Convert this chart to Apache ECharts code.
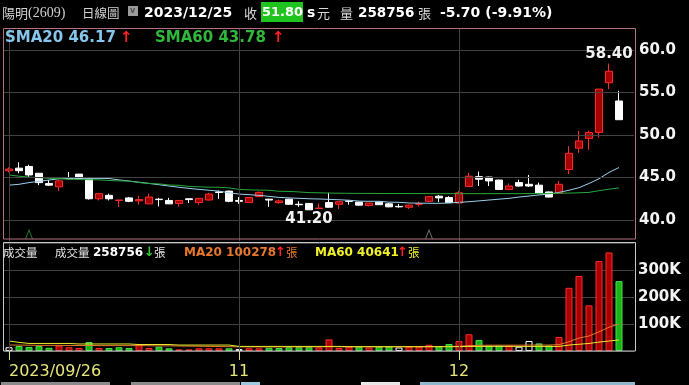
<!DOCTYPE html>
<html><head><meta charset="utf-8">
<script src="https://cdn.jsdelivr.net/npm/echarts@6/dist/echarts.min.js"></script>
<style>html,body{margin:0;padding:0;background:#000;}#c{width:689px;height:385px;}</style>
</head><body><div id="c"></div><script>
// ---------- data ----------
const dates = ['2023/09/26','2023/09/27','2023/09/28',
'2023/10/02','2023/10/03','2023/10/04','2023/10/05','2023/10/06','2023/10/11','2023/10/12','2023/10/13','2023/10/16','2023/10/17','2023/10/18','2023/10/19','2023/10/20','2023/10/23','2023/10/24','2023/10/25','2023/10/26','2023/10/27','2023/10/30','2023/10/31',
'2023/11/01','2023/11/02','2023/11/03','2023/11/06','2023/11/07','2023/11/08','2023/11/09','2023/11/10','2023/11/13','2023/11/14','2023/11/15','2023/11/16','2023/11/17','2023/11/20','2023/11/21','2023/11/22','2023/11/23','2023/11/24','2023/11/27','2023/11/28','2023/11/29','2023/11/30',
'2023/12/01','2023/12/04','2023/12/05','2023/12/06','2023/12/07','2023/12/08','2023/12/11','2023/12/12','2023/12/13','2023/12/14','2023/12/15','2023/12/18','2023/12/19','2023/12/20','2023/12/21','2023/12/22','2023/12/25'];
const opens = [45.8,46.1,46.3,45.5,44.3,43.9,45.0,45.4,44.8,42.5,
42.9,42.3,42.6,42.25,41.9,42.45,42.3,41.95,42.5,42.05,
42.35,43.3,43.4,42.3,42.05,42.75,42.45,42.05,42.45,41.85,
41.95,41.35,42.05,41.85,42.25,42.1,41.7,42.1,41.9,41.6,
41.5,41.85,42.2,42.8,42.65,42.0,43.95,45.1,45.05,44.7,
43.6,44.4,44.2,44.1,43.3,43.15,45.95,48.45,49.6,50.3,
56.15,54.0];
const closes = [46.0,45.8,45.3,44.4,44.1,44.6,44.85,44.9,42.5,43.1,
42.5,42.35,42.2,42.4,42.7,42.4,41.9,42.3,42.4,42.55,
43.05,43.25,42.2,42.2,42.65,43.25,42.35,42.25,41.85,41.8,
41.2,41.4,41.5,42.15,42.2,41.75,42.0,41.8,41.55,41.55,
41.75,41.9,42.75,42.6,42.05,43.2,45.15,44.8,44.6,43.6,
44.0,44.0,44.0,43.15,42.7,44.2,47.85,49.3,50.3,55.4,
57.5,51.8];
const lows = [45.6,45.5,45.0,44.1,44.0,43.4,44.8,44.8,42.4,42.3,
42.3,41.55,42.1,41.8,41.9,41.6,41.9,41.6,42.0,41.8,
42.3,42.5,42.1,41.9,42.0,42.75,41.55,41.9,41.8,41.55,
41.2,41.3,41.5,41.3,41.8,41.7,41.6,41.8,41.5,41.45,
41.3,41.6,42.15,42.1,42.0,41.95,43.9,44.0,44.0,43.6,
43.5,43.9,43.9,43.1,42.65,43.1,45.4,47.9,48.25,49.7,
55.4,51.8];
const highs = [46.2,46.8,46.5,45.5,44.7,44.7,45.65,45.4,44.9,43.1,
43.1,42.35,42.7,42.85,43.1,42.6,42.6,42.3,42.5,42.6,
43.2,43.45,43.45,42.7,42.7,43.35,42.5,42.4,42.5,42.2,
42.0,41.95,43.2,42.2,42.35,42.15,42.0,42.15,42.0,41.9,
41.8,42.15,42.75,42.95,42.8,43.4,45.55,45.7,45.1,44.75,
44.3,44.75,45.3,44.4,43.35,44.6,48.7,50.5,50.5,55.4,
58.4,55.2];
const prevClose0 = 46.0;
const volumes = [14000,18500,15000,18000,12000,20000,14000,11000,33000,11000,
11000,14000,11000,25000,11000,16000,10000,6000,6000,10000,
10000,10000,10000,7000,10000,10000,12000,11000,14000,14000,
14000,13000,43000,11000,16000,16000,13000,16000,16000,13000,
16000,16000,23000,18000,26000,37000,62000,41000,20000,20000,
20000,16000,37000,28000,20000,52000,234000,278000,169000,333000,
365000,258756];
const sma20 = [44.1,44.2,44.4,44.55,44.7,44.85,44.9,44.9,44.9,44.9,
44.88,44.72,44.58,44.45,44.3,44.15,44.0,43.85,43.72,43.6,
43.5,43.4,43.2,43.05,42.98,42.9,42.78,42.66,42.6,42.55,
42.5,42.47,42.43,42.38,42.33,42.22,42.2,42.2,42.1,42.08,
42.0,41.98,41.97,41.96,42.0,42.08,42.15,42.25,42.35,42.45,
42.55,42.7,42.82,42.95,43.05,43.25,43.5,43.8,44.3,44.85,
45.6,46.17];
const sma60 = [45.3,45.15,45.05,44.98,44.9,44.86,44.8,44.76,44.74,44.72,
44.65,44.6,44.58,44.4,44.3,44.25,44.12,44.08,43.95,43.9,
43.86,43.85,43.78,43.6,43.55,43.52,43.5,43.38,43.36,43.3,
43.22,43.2,43.17,43.15,43.14,43.13,43.13,43.12,43.12,43.12,
43.11,43.11,43.1,43.1,43.1,43.1,43.1,43.1,43.1,43.1,
43.1,43.1,43.1,43.12,43.13,43.15,43.17,43.2,43.25,43.45,
43.62,43.78];
const volMa20 = [22000,22000,21500,21000,21000,21000,20500,20500,20500,20000,
20000,20000,20000,20000,19500,19000,19000,18500,18000,17500,
17000,16500,16000,15500,15000,15000,15000,15000,15000,15000,
15000,15000,16000,15500,15500,15500,15500,15500,15500,15500,
15500,15500,16000,16000,16500,17500,20000,21000,21500,21500,
21500,21500,22000,22000,22000,23500,34500,48000,55500,71000,
88000,100278];
const volMa60 = [37000,32000,28000,28000,28000,28000,28000,26000,26000,26000,
26000,26000,26000,24000,24000,24000,24000,22000,22000,22000,
22000,22000,22000,17000,17000,17000,17000,17000,17000,17000,
17000,17000,17000,17000,16000,16000,16000,16000,16000,16000,
16000,16000,16000,16000,16000,16000,17000,17000,17000,17000,
17000,17000,17000,17000,17000,17000,22000,25000,28000,33000,
37000,40641];
const tickDates = ['2023/09/26', '2023/11/01', '2023/12/01'];
const tickLabels = ['2023/09/26', '11', '12'];
const priceTicks = [40, 45, 50, 55, 60];
const volTicks = [100000, 200000, 300000];
const signalIdx = [2, 42];
const signalColors = ['#2f9a3c', '#8c8c8c'];
const stockName = '陽明', stockCode = '(2609)';

// ---------- build ----------
const n = dates.length;
const cats = dates.concat(['']);
const candle = dates.map((d, i) => [opens[i], closes[i], lows[i], highs[i]]);
function chg(i) { const p = i === 0 ? prevClose0 : closes[i - 1]; return closes[i] > p ? 1 : (closes[i] < p ? -1 : 0); }
const volData = volumes.map((v, i) => {
  const s = chg(i);
  const st = s > 0 ? {color: '#a80000', borderColor: '#ff2a2a'} : (s < 0 ? {color: '#18b418', borderColor: '#4be04b'} : {color: '#000', borderColor: '#ffffff'});
  st.borderWidth = 1;
  return {value: v, itemStyle: st};
});
const isTick = (i) => tickDates.indexOf(cats[i]) >= 0;
const last = n - 1;
const chgVal = closes[last] - closes[last - 1];
const chgPct = chgVal / closes[last - 1] * 100;
const GRID = '#424242';

const vLines = tickDates.map(c => ({xAxis: c}));
const hLines = priceTicks.map(v => ({yAxis: v}));

const F = 'DejaVu Sans';
const CJK = '"Noto Sans CJK TC"';
function txt(x, y, text, fill, font, z) {
  return {type: 'text', x: x, y: y, z: z || 100, silent: true,
    style: {text: text, fill: fill, font: font, verticalAlign: 'middle', textVerticalAlign: 'middle'}};
}
const B = (s) => 'bold ' + s + 'px "DejaVu Sans"';
const C = (s) => s + 'px ' + CJK;

const graphics = [
  {type: 'rect', shape: {x: 3.5, y: 28.5, width: 632, height: 210.5}, style: {fill: 'none', stroke: '#b5707e', lineWidth: 1}, z: 50, silent: true},
  {type: 'rect', shape: {x: 3.5, y: 242.5, width: 632, height: 108.5}, style: {fill: 'none', stroke: '#c8c8c8', lineWidth: 1}, z: 50, silent: true},
  txt(2, 13, stockName, '#cfcfcf', C(13)),
  txt(28, 13, stockCode, '#cfcfcf', '14px "Liberation Serif"'),
  txt(82, 13, '日線圖', '#d4d4d4', C(12.5)),
  {type: 'rect', shape: {x: 128, y: 6, width: 10, height: 10}, style: {fill: '#9a9a9a'}, z: 100, silent: true},
  txt(130, 11, 'v', '#505050', 'bold 8px "DejaVu Sans"'),
  txt(144, 13, dates[last], '#ffffff', B(14)),
  txt(244, 13, '收', '#d8d8d8', C(13)),
  {type: 'rect', shape: {x: 261, y: 2, width: 42, height: 20}, style: {fill: '#1ec31e'}, z: 99, silent: true},
  txt(262, 13, closes[last].toFixed(2), '#ffffff', B(13)),
  txt(307, 13, 's', '#ffffff', B(14)),
  txt(317, 13, '元', '#d8d8d8', C(13)),
  txt(340, 13, '量', '#d8d8d8', C(13)),
  txt(358, 13, String(volumes[last]), '#ffffff', B(13.5)),
  txt(418, 13, '張', '#d8d8d8', C(13)),
  txt(440, 13, chgVal.toFixed(2) + ' (' + chgPct.toFixed(2) + '%)', '#ffffff', B(14)),
  txt(5, 38, 'SMA20 ' + sma20[last].toFixed(2), '#86c6ec', B(15)),
  txt(120, 38, '↑', '#ff2020', B(15)),
  txt(155, 38, 'SMA60 ' + sma60[last].toFixed(2), '#2fb83c', B(15)),
  txt(272, 38, '↑', '#ff2020', B(15)),
  txt(3, 253, '成交量', '#e4e4e4', C(11.5)),
  txt(55, 253, '成交量', '#e4e4e4', C(11.5)),
  txt(93, 253, String(volumes[last]), '#ffffff', B(12)),
  txt(144, 253, '↓', '#2fd02f', B(13)),
  txt(154, 253, '張', '#e4e4e4', C(11.5)),
  txt(184, 253, 'MA20 ' + volMa20[last], '#e8782c', B(12)),
  txt(275, 253, '↑', '#ff2020', B(13)),
  txt(286, 253, '張', '#e8782c', C(11.5)),
  txt(315, 253, 'MA60 ' + volMa60[last], '#f0f02a', B(12)),
  txt(397, 253, '↑', '#ff2020', B(13)),
  txt(408, 253, '張', '#f0f02a', C(11.5)),
  {type: 'rect', shape: {x: 1, y: 382, width: 109, height: 3}, style: {fill: '#8a8a8a'}, silent: true},
  {type: 'rect', shape: {x: 131, y: 382, width: 109, height: 3}, style: {fill: '#8a8a8a'}, silent: true},
  {type: 'rect', shape: {x: 241, y: 382, width: 19, height: 3}, style: {fill: '#9cc8e0'}, silent: true},
  {type: 'rect', shape: {x: 361, y: 382, width: 39, height: 3}, style: {fill: '#e8e8e8'}, silent: true},
  {type: 'rect', shape: {x: 420, y: 382, width: 215, height: 3}, style: {fill: '#8fb8cc'}, silent: true}
];

const option = {
  backgroundColor: '#000',
  animation: false,
  grid: [
    {left: 4, width: 630, top: 28.75, height: 212.5},
    {left: 4, width: 630, top: 243, height: 108}
  ],
  xAxis: [
    {type: 'category', gridIndex: 0, data: cats, boundaryGap: true,
      axisLine: {show: false}, axisTick: {show: false}, axisLabel: {show: false}, splitLine: {show: false}},
    {type: 'category', gridIndex: 1, data: cats, boundaryGap: true,
      axisLine: {show: false},
      axisTick: {show: true, alignWithLabel: true, interval: (i) => isTick(i), length: 9, lineStyle: {color: '#e2e27a', width: 1}},
      axisLabel: {show: true, interval: (i) => isTick(i), hideOverlap: false, margin: 13, color: '#e6e67c', fontFamily: F, fontSize: 16, alignMinLabel: 'left',
        formatter: (val) => { const k = tickDates.indexOf(val); return k >= 0 ? tickLabels[k] : ''; }},
      splitLine: {show: false}}
  ],
  yAxis: [
    {type: 'value', gridIndex: 0, position: 'right', min: 37.5, max: 62.5, interval: 2.5,
      axisLine: {show: false}, axisTick: {show: false}, splitLine: {show: false},
      axisLabel: {margin: 5, color: '#f4f4f4', fontFamily: F, fontWeight: 'bold', fontSize: 15,
        formatter: (v) => (priceTicks.indexOf(v) >= 0 ? v.toFixed(1) : '')}},
    {type: 'value', gridIndex: 1, position: 'right', min: 0, max: 400000, interval: 100000,
      axisLine: {show: false}, axisTick: {show: false},
      splitLine: {show: true, lineStyle: {color: GRID, width: 1}},
      axisLabel: {margin: 4, color: '#f4f4f4', fontFamily: F, fontWeight: 'bold', fontSize: 15,
        formatter: (v) => (volTicks.indexOf(v) >= 0 ? (v / 1000) + 'K' : '')}}
  ],
  series: [
    {type: 'line', xAxisIndex: 0, yAxisIndex: 0, data: closes, showSymbol: false, silent: true, z: 1,
      lineStyle: {opacity: 0},
      markLine: {silent: true, symbol: ['none', 'none'], label: {show: false}, animation: false,
        lineStyle: {color: GRID, type: 'solid', width: 1}, data: hLines.concat(vLines)}},
    {type: 'line', xAxisIndex: 1, yAxisIndex: 1, data: volumes, showSymbol: false, silent: true, z: 1,
      lineStyle: {opacity: 0},
      markLine: {silent: true, symbol: ['none', 'none'], label: {show: false}, animation: false,
        lineStyle: {color: GRID, type: 'solid', width: 1}, data: vLines}},
    {type: 'candlestick', name: 'K', xAxisIndex: 0, yAxisIndex: 0, data: candle, barWidth: 7, z: 2,
      itemStyle: {color: '#a80000', color0: '#ffffff', borderColor: '#ff2a2a', borderColor0: '#ffffff', borderWidth: 1},
      markPoint: {symbol: 'circle', symbolSize: 1, itemStyle: {color: 'rgba(0,0,0,0)'}, animation: false,
        label: {show: true, color: '#f2f2f2', fontFamily: F, fontWeight: 'bold', fontSize: 15,
          formatter: (p) => Number(p.value).toFixed(2)},
        data: [
          {type: 'max', valueDim: 'highest', label: {position: 'top', distance: 1}},
          {type: 'min', valueDim: 'lowest', label: {position: 'bottom', distance: 1}}
        ]}},
    {type: 'line', name: 'SMA20', xAxisIndex: 0, yAxisIndex: 0, data: sma20, showSymbol: false, z: 3,
      lineStyle: {color: '#9ccfee', width: 1}},
    {type: 'line', name: 'SMA60', xAxisIndex: 0, yAxisIndex: 0, data: sma60, showSymbol: false, z: 3,
      lineStyle: {color: '#26a83a', width: 1}},
    {type: 'scatter', xAxisIndex: 0, yAxisIndex: 0, clip: false, z: 4,
      symbol: 'path://M0,10 L5,0 L10,10', symbolSize: [7, 9],
      data: signalIdx.map((ix, k) => ({value: [ix, 38.3], itemStyle: {color: 'rgba(0,0,0,0)', borderColor: signalColors[k], borderWidth: 1}}))},
    {type: 'bar', xAxisIndex: 1, yAxisIndex: 1, data: volData, barWidth: 7, z: 2},
    {type: 'line', name: 'VMA20', xAxisIndex: 1, yAxisIndex: 1, data: volMa20, showSymbol: false, z: 3,
      lineStyle: {color: '#e8782c', width: 1}},
    {type: 'line', name: 'VMA60', xAxisIndex: 1, yAxisIndex: 1, data: volMa60, showSymbol: false, z: 3,
      lineStyle: {color: '#eaea30', width: 1}}
  ],
  graphic: graphics
};
const chart = echarts.init(document.getElementById('c'), null, {renderer: 'canvas', width: 689, height: 385});
chart.setOption(option);
</script></body></html>
